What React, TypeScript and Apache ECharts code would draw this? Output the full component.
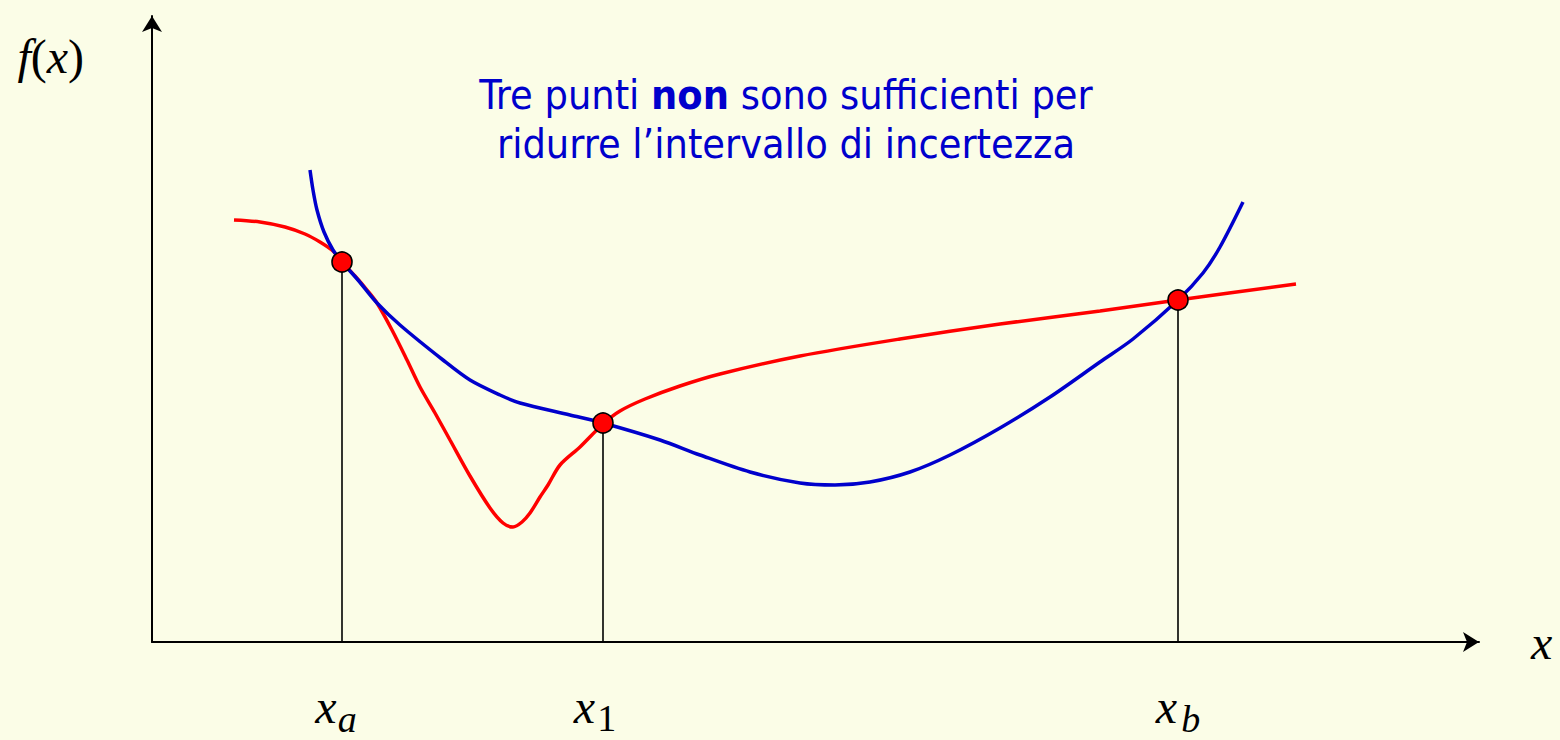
import React, { useEffect, useRef } from "react";
import * as echarts from "echarts";

// Chart units: x from 0 to 1327, y from 0 to 626 (abstract function-plot units)
const blueCurve: [number, number][] = [
  [158, 472], [161, 452], [165, 432], [172, 410], [181, 392], [190, 380],
  [206, 362], [225, 339], [248, 317], [291, 282], [318, 262], [348, 247],
  [368, 239], [418, 227], [451, 219], [508, 202], [548, 187], [598, 170],
  [648, 159], [683, 157], [718, 160], [758, 170], [798, 187], [848, 214],
  [898, 245], [948, 280], [981, 303], [1026, 342], [1051, 369], [1068, 395],
  [1091, 440],
];

const redCurve: [number, number][] = [
  [82, 422], [108, 420], [133, 415], [153, 408], [168, 400], [181, 391],
  [190, 380], [203, 366], [215, 352], [225, 339], [240, 312], [255, 282],
  [268, 255], [283, 229], [298, 202], [318, 166], [338, 134], [351, 119],
  [361, 115], [370, 120], [378, 129], [388, 145], [396, 157], [408, 177],
  [428, 195], [451, 218], [468, 231], [493, 243], [528, 256], [568, 268],
  [648, 286], [748, 303], [848, 318], [948, 331], [1026, 342], [1144, 358],
];

const probePoints: [number, number][] = [[190, 380], [451, 219], [1026, 342]];
const probeX = probePoints.map((p) => p[0]);
const probeSubscripts = ["a", "1", "b"];
const probeSubStyles = ["sa", "s1", "sb"];

const titleText =
  "Tre punti {b|non} sono sufficienti per\nridurre l\u2019intervallo di incertezza";

const SERIF = "'Liberation Serif', 'Times New Roman', serif";
const SANS = "'DejaVu Sans Condensed', 'Liberation Sans', sans-serif";

const subBase = {
  fontFamily: SERIF,
  fontSize: 38,
  lineHeight: 38,
  color: "#000",
  verticalAlign: "top",
};

export default function App() {
  const ref = useRef<HTMLDivElement>(null);

  useEffect(() => {
    const chart = echarts.init(ref.current!, null, { renderer: "svg" });
    chart.setOption({
      animation: false,
      backgroundColor: "#FBFDE7",
      grid: {
        left: 152,
        top: 16,
        right: 81,
        bottom: 98,
        containLabel: false,
        outerBoundsMode: "none",
      },
      xAxis: {
        type: "value",
        min: 0,
        max: 1327,
        name: "x",
        nameLocation: "end",
        nameGap: 52,
        nameTextStyle: {
          fontFamily: SERIF,
          fontStyle: "italic",
          fontSize: 48,
          color: "#000",
          align: "left",
          verticalAlign: "middle",
          padding: [0, 0, 6, 0],
        },
        axisLine: {
          show: true,
          symbol: ["none", "arrow"],
          symbolSize: [15, 16],
          lineStyle: { color: "#000", width: 2 },
        },
        axisTick: { show: false },
        splitLine: { show: false },
        axisLabel: {
          show: true,
          customValues: probeX,
          margin: 40,
          formatter: (value: number) => {
            const i = probeX.indexOf(value);
            return `{x|x}{${probeSubStyles[i] ?? "sa"}|${probeSubscripts[i] ?? ""}}`;
          },
          rich: {
            x: {
              fontFamily: SERIF,
              fontStyle: "italic",
              fontSize: 48,
              lineHeight: 48,
              color: "#000",
              verticalAlign: "top",
            },
            sa: { ...subBase, fontStyle: "italic", padding: [18, 12, 0, 1] },
            s1: { ...subBase, fontStyle: "normal", padding: [17, 16, 0, 2] },
            sb: { ...subBase, fontStyle: "italic", padding: [18, 0, 0, 4] },
          },
        },
      },
      yAxis: {
        type: "value",
        min: 0,
        max: 626,
        name: "{i|f}{n|(}{i|x}{n|)}",
        nameLocation: "end",
        nameGap: -40,
        nameTextStyle: {
          align: "right",
          verticalAlign: "middle",
          padding: [0, 68, 0, 0],
          rich: {
            i: { fontFamily: SERIF, fontStyle: "italic", fontSize: 48, color: "#000" },
            n: { fontFamily: SERIF, fontSize: 48, color: "#000" },
          },
        },
        axisLine: {
          show: true,
          symbol: ["none", "arrow"],
          symbolSize: [15, 16],
          lineStyle: { color: "#000", width: 2 },
        },
        axisTick: { show: false },
        axisLabel: { show: false },
        splitLine: { show: false },
      },
      graphic: [
        {
          type: "text",
          x: 786,
          y: 70,
          silent: true,
          style: {
            text: titleText,
            align: "center",
            verticalAlign: "top",
            fontFamily: SANS,
            fontSize: 41,
            lineHeight: 49,
            fill: "#0000CC",
            rich: {
              b: {
                fontFamily: SANS,
                fontSize: 41,
                lineHeight: 49,
                fontWeight: "bold",
                fill: "#0000CC",
              },
            },
          },
        },
      ],
      series: [
        {
          type: "line",
          name: "red",
          data: redCurve,
          smooth: 0.3,
          showSymbol: false,
          silent: true,
          z: 3,
          lineStyle: { color: "#FF0000", width: 3.5 },
        },
        {
          type: "line",
          name: "blue",
          data: blueCurve,
          smooth: 0.3,
          showSymbol: false,
          silent: true,
          z: 4,
          lineStyle: { color: "#0000CC", width: 3.5 },
        },
        {
          type: "scatter",
          name: "points",
          data: probePoints,
          symbolSize: 20,
          silent: true,
          z: 10,
          itemStyle: { color: "#FF0000", borderColor: "#000", borderWidth: 1.6, opacity: 1 },
          markLine: {
            silent: true,
            symbol: ["none", "none"],
            label: { show: false },
            lineStyle: { color: "#000", width: 1.6, type: "solid" },
            emphasis: { disabled: true },
            data: probePoints.map(([x, y]) => [
              { coord: [x, y] },
              { coord: [x, 0] },
            ]),
          },
        },
      ],
    });
    return () => chart.dispose();
  }, []);

  return (
    <div
      ref={ref}
      style={{ position: "absolute", left: 0, top: 0, width: 1560, height: 740 }}
    />
  );
}
